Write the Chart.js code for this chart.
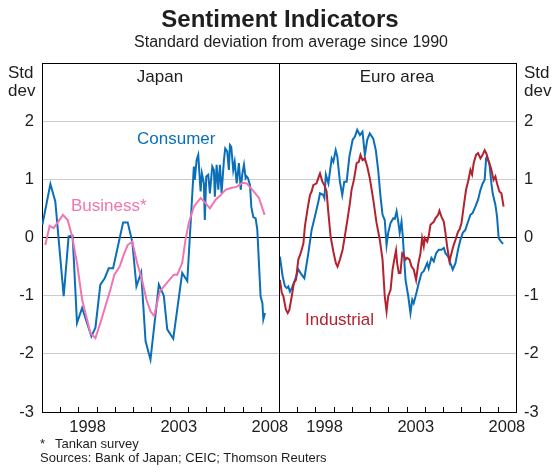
<!DOCTYPE html>
<html>
<head>
<meta charset="utf-8">
<script src="https://cdn.jsdelivr.net/npm/chart.js@4.4.1/dist/chart.umd.min.js"></script>
<style>
  body { margin: 0; background: #fff; }
  #wrap { position: relative; width: 552px; height: 474px; font-family: "Liberation Sans", Arial, sans-serif; color: #1e1e1e; }
  #wrap canvas { position: absolute; left: 0; top: 0; }
  .lbl { position: absolute; line-height: 1; white-space: nowrap; }
</style>
</head>
<body>
<div id="wrap"><canvas id="chart" width="552" height="474"></canvas></div>
<script>
// ======================
// DATA (decimal years, std dev)
// ======================
const startYear = 1996;
const panelYears = 13;
const tickLabelYears = [1998, 2003, 2008];
const yTicks = [-3, -2, -1, 0, 1, 2, 3];

const jpConsumerYears = [1996.02, 1996.46, 1996.73, 1997.19, 1997.46, 1997.68, 1997.92, 1998.2, 1998.71, 1998.93,
  1999.2, 1999.44, 1999.66, 1999.9, 2000.45, 2000.7, 2000.95, 2001.18, 2001.44, 2001.68, 2001.95, 2002.41, 2002.68,
  2002.87, 2003.2, 2003.69, 2003.97, 2004.33, 2004.38, 2004.48, 2004.57, 2004.7, 2004.77, 2004.88, 2004.93, 2005.01,
  2005.12, 2005.21, 2005.34, 2005.43, 2005.48, 2005.58, 2005.67, 2005.76, 2005.85, 2005.98, 2006.05, 2006.16, 2006.25,
  2006.31, 2006.38, 2006.49, 2006.57, 2006.68, 2006.8, 2006.9, 2006.99, 2007.08, 2007.17, 2007.23, 2007.3, 2007.41,
  2007.48, 2007.59, 2007.72, 2007.81, 2007.99, 2008.09, 2008.14, 2008.23];
const jpConsumerValues = [0.22, 0.92, 0.62, -1.01, 0.02, 0.03, -1.47, -1.21, -1.7, -1.55,
  -0.81, -0.7, -0.53, -0.53, 0.26, 0.26, -0.07, -0.84, -0.6, -1.78, -2.1, -0.81, -1.0,
  -1.58, -1.74, -0.61, -0.75, 1.22, 0.99, 1.33, 1.42, 0.79, 1.1, 0.93, 0.3, 1.05,
  1.08, 0.76, 1.22, 1.16, 0.7, 1.25, 0.82, 1.25, 0.76, 1.33, 1.53, 1.48, 1.16,
  1.59, 1.56, 1.16, 1.3, 0.93, 1.28, 0.82, 1.1, 1.25, 1.02, 1.05, 1.02, 0.9,
  0.53, 0.35, 0.33, 0.13, -1.01, -1.13, -1.41, -1.3];

const jpBusinessYears = [1996.18, 1996.42, 1996.64, 1997.15, 1997.41, 1997.65, 1997.92, 1998.2, 1998.47, 1998.65,
  1998.93, 1999.2, 1999.48, 1999.75, 1999.97, 2000.26, 2000.48, 2000.7, 2000.95, 2001.22, 2001.49, 2001.73, 2001.95,
  2002.15, 2002.46, 2002.77, 2003.23, 2003.42, 2003.69, 2003.87, 2004.05, 2004.33, 2004.7, 2004.97, 2005.21, 2005.52,
  2005.8, 2006.07, 2006.35, 2006.68, 2006.99, 2007.23, 2007.54, 2007.9, 2008.21];
const jpBusinessValues = [-0.13, 0.2, 0.16, 0.39, 0.3, 0.02, -0.44, -1.07, -1.41, -1.64,
  -1.73, -1.47, -1.18, -0.9, -0.64, -0.5, -0.3, -0.13, -0.07, -0.44, -0.73, -1.07, -1.27,
  -1.35, -0.93, -0.81, -0.64, -0.64, -0.44, -0.04, 0.25, 0.53, 0.68, 0.59, 0.5, 0.65,
  0.73, 0.82, 0.85, 0.87, 0.94, 0.93, 0.82, 0.68, 0.39];

const euConsumerYears = [1996.05, 1996.2, 1996.33, 1996.42, 1996.51, 1996.6, 1996.7, 1996.88, 1997.06, 1997.24,
  1997.39, 1997.61, 1997.79, 1997.97, 1998.16, 1998.25, 1998.43, 1998.49, 1998.57, 1998.71, 1998.89, 1998.98,
  1999.11, 1999.2, 1999.34, 1999.47, 1999.58, 1999.71, 1999.86, 2000.04, 2000.16, 2000.29, 2000.44, 2000.58,
  2000.71, 2000.84, 2000.98, 2001.17, 2001.31, 2001.44, 2001.57, 2001.68, 2001.8, 2001.9, 2001.99, 2002.12,
  2002.27, 2002.35, 2002.45, 2002.55, 2002.62, 2002.72, 2002.79, 2002.94, 2003.09, 2003.21, 2003.31, 2003.39,
  2003.54, 2003.67, 2003.82, 2003.94, 2004.13, 2004.21, 2004.36, 2004.49, 2004.62, 2004.76, 2004.91, 2005.04,
  2005.13, 2005.28, 2005.4, 2005.53, 2005.68, 2005.82, 2005.95, 2006.08, 2006.22, 2006.37, 2006.5, 2006.62,
  2006.77, 2006.92, 2007.05, 2007.17, 2007.28, 2007.36, 2007.41, 2007.54, 2007.65, 2007.72, 2007.87, 2007.96,
  2008.05, 2008.18, 2008.29];
const euConsumerValues = [-0.33, -0.67, -0.84, -0.87, -0.84, -0.93, -0.87, -0.73, -0.55, -0.64,
  -0.7, -0.27, 0.13, 0.36, 0.62, 0.76, 0.73, 0.68, 1.08, 0.93, 1.36, 1.3,
  1.5, 1.39, 0.96, 0.73, 0.96, 0.96, 1.39, 1.68, 1.73, 1.85, 1.76, 1.82,
  1.42, 1.68, 1.79, 1.7, 1.5, 1.16, 0.7, 0.39, 0.3, -0.13, 0.08, 0.25,
  0.33, 0.32, 0.45, 0.25, 0.08, 0.27, 0.02, -0.73, -1.01, -1.3, -1.07, -1.13,
  -0.95, -0.78, -0.61, -0.58, -0.44, -0.53, -0.35, -0.41, -0.27, -0.21, -0.21, -0.18,
  -0.27, -0.33, -0.44, -0.55, -0.44, -0.21, -0.04, 0.08, 0.13, 0.27, 0.39, 0.42,
  0.53, 0.65, 0.82, 0.93, 0.99, 1.36, 1.39, 1.28, 0.93, 0.76, 0.56, 0.36,
  -0.01, -0.07, -0.11];

const euIndustrialYears = [1996.05, 1996.15, 1996.24, 1996.38, 1996.48, 1996.57, 1996.7, 1996.82, 1996.93, 1997.06,
  1997.19, 1997.34, 1997.42, 1997.56, 1997.7, 1997.79, 1997.88, 1998.06, 1998.19, 1998.25, 1998.38, 1998.49,
  1998.61, 1998.71, 1998.83, 1998.98, 1999.12, 1999.21, 1999.34, 1999.49, 1999.61, 1999.75, 1999.89, 1999.98,
  2000.11, 2000.26, 2000.38, 2000.47, 2000.58, 2000.71, 2000.84, 2000.98, 2001.17, 2001.35, 2001.53, 2001.68,
  2001.8, 2001.9, 2001.99, 2002.12, 2002.23, 2002.35, 2002.42, 2002.48, 2002.57, 2002.66, 2002.76, 2002.85,
  2002.94, 2003.03, 2003.16, 2003.27, 2003.39, 2003.52, 2003.63, 2003.76, 2003.85, 2003.94, 2004.0, 2004.13,
  2004.21, 2004.31, 2004.49, 2004.58, 2004.73, 2004.8, 2004.91, 2005.04, 2005.13, 2005.22, 2005.35, 2005.46,
  2005.58, 2005.68, 2005.82, 2005.91, 2006.01, 2006.13, 2006.26, 2006.37, 2006.5, 2006.59, 2006.68, 2006.81,
  2006.92, 2007.05, 2007.17, 2007.28, 2007.37, 2007.5, 2007.63, 2007.77, 2007.87, 2007.96, 2008.09, 2008.2,
  2008.32];
const euIndustrialValues = [-0.73, -0.95, -1.01, -1.24, -1.3, -1.24, -1.01, -0.78, -0.73, -0.38,
  -0.27, -0.1, 0.19, 0.48, 0.73, 0.79, 0.9, 0.93, 1.05, 1.1, 0.96, 0.9,
  0.79, 0.42, 0.02, -0.24, -0.44, -0.5, -0.38, -0.21, 0.02, 0.3, 0.59, 0.82,
  0.99, 1.28, 1.3, 1.42, 1.33, 1.36, 1.22, 1.02, 0.65, 0.25, -0.04, -0.38,
  -1.01, -1.27, -1.01, -0.9, -0.55, -0.33, -0.22, -0.44, -0.61, -0.61, -0.27, -0.3,
  -0.38, -0.35, -0.38, -0.5, -0.55, -0.73, -0.47, -0.27, -0.01, -0.15, -0.01, -0.07,
  0.02, 0.22, 0.27, 0.33, 0.39, 0.46, 0.36, 0.27, 0.08, -0.15, -0.41, -0.27,
  -0.13, -0.04, 0.1, 0.14, 0.25, 0.53, 0.82, 0.96, 1.16, 1.08, 1.28, 1.42,
  1.45, 1.36, 1.42, 1.5, 1.45, 1.3, 1.19, 0.99, 1.05, 0.93, 0.79, 0.76,
  0.53];

// ======================
// COLOURS
// ======================
const blue = "#0a6fb8";
const pink = "#f274b0";
const red = "#b3222f";
const gridGrey = "#c9cbcd";
const ink = "#1e1e1e";

// ======================
// HELPERS
// ======================
// japan panel sits on 0..13, euro panel on 13..26
function toPoints(years, values, panel) {
  return years.map((yr, i) => ({ x: yr - startYear + panel * panelYears, y: values[i] }));
}

function addLabel(text, x, baseline, size, opts) {
  opts = opts || {};
  let d = document.createElement("div");
  d.className = "lbl";
  d.textContent = text;
  d.style.fontSize = size + "px";
  d.style.top = (baseline - 0.846 * size) + "px";
  d.style.left = x + "px";
  if (opts.bold) d.style.fontWeight = "bold";
  if (opts.color) d.style.color = opts.color;
  if (opts.center) d.style.transform = "translateX(-50%)";
  document.getElementById("wrap").appendChild(d);
}

function line(label, data, color) {
  return { label: label, data: data, borderColor: color, borderWidth: 2, pointRadius: 0, tension: 0, fill: false };
}

// ======================
// PANEL DIVIDER + INSIDE TICKS
// ======================
const panelFrame = {
  id: "panelFrame",
  afterDatasetsDraw(chart) {
    let ctx = chart.ctx;
    let x = chart.scales.x;
    let area = chart.chartArea;
    ctx.save();
    ctx.strokeStyle = "#000";
    ctx.lineWidth = 1;
    ctx.beginPath();
    for (let i = 1; i < panelYears * 2; i++) {
      let px = Math.round(x.getPixelForValue(i)) + 0.5;
      if (i === panelYears) {
        ctx.moveTo(px, area.top);
        ctx.lineTo(px, area.bottom);
      } else {
        ctx.moveTo(px, area.bottom);
        ctx.lineTo(px, area.bottom - 5);
      }
    }
    ctx.stroke();
    ctx.restore();
  }
};

// ======================
// CHART
// ======================
const tickFont = { family: "'Liberation Sans', Arial, sans-serif", size: 16.5 };

function yAxis(pos, width) {
  return {
    position: pos,
    min: -3,
    max: 3,
    afterBuildTicks: s => { s.ticks = yTicks.map(v => ({ value: v })); },
    afterFit: s => { s.width = width; },
    grid: {
      display: pos === "left",
      drawTicks: false,
      lineWidth: 1,
      color: c => (c.tick.value === 0 || Math.abs(c.tick.value) === 3) ? "#000" : gridGrey
    },
    border: { display: true, color: "#000", width: 1 },
    ticks: {
      padding: 8,
      color: ink,
      font: tickFont,
      callback: v => (v === 3 ? "" : String(v))
    }
  };
}

new Chart(document.getElementById("chart"), {
  type: "line",
  data: {
    datasets: [
      line("Japan Business", toPoints(jpBusinessYears, jpBusinessValues, 0), pink),
      line("Japan Consumer", toPoints(jpConsumerYears, jpConsumerValues, 0), blue),
      line("Euro Industrial", toPoints(euIndustrialYears, euIndustrialValues, 1), red),
      line("Euro Consumer", toPoints(euConsumerYears, euConsumerValues, 1), blue)
    ]
  },
  options: {
    responsive: false,
    animation: false,
    devicePixelRatio: 1,
    layout: { padding: { top: 63, bottom: 32, left: 0, right: 0 } },
    plugins: { legend: { display: false }, tooltip: { enabled: false } },
    scales: {
      x: {
        type: "linear",
        min: 0,
        max: panelYears * 2,
        afterBuildTicks: s => {
          let t = [];
          [0, 1].forEach(p => tickLabelYears.forEach(yr => t.push({ value: yr - startYear + 0.5 + p * panelYears })));
          s.ticks = t;
        },
        afterFit: s => { s.height = 30; },
        grid: { display: false, drawTicks: false },
        border: { display: true, color: "#000", width: 1 },
        ticks: {
          padding: 6,
          maxRotation: 0,
          autoSkip: false,
          color: ink,
          font: tickFont,
          callback: v => String(Math.floor(v % panelYears) + startYear)
        }
      },
      y: yAxis("left", 42),
      y2: yAxis("right", 36)
    }
  },
  plugins: [panelFrame]
});

// ======================
// TEXT
// ======================
addLabel("Sentiment Indicators", 280, 27, 24, { bold: true, center: true });
addLabel("Standard deviation from average since 1990", 291, 48, 16, { center: true });
addLabel("Std", 8, 78, 17);
addLabel("dev", 8, 96, 17);
addLabel("Std", 524, 78, 17);
addLabel("dev", 524, 96, 17);
addLabel("Japan", 160, 82.5, 17, { center: true });
addLabel("Euro area", 397, 82.5, 17, { center: true });
addLabel("Consumer", 137, 144, 17, { color: blue });
addLabel("Business*", 71, 211.5, 17, { color: pink });
addLabel("Industrial", 305, 325, 17, { color: red });
addLabel("*", 40, 447.5, 13);
addLabel("Tankan survey", 55, 447.5, 13);
addLabel("Sources: Bank of Japan; CEIC; Thomson Reuters", 40, 461.5, 13);
</script>
</body>
</html>
